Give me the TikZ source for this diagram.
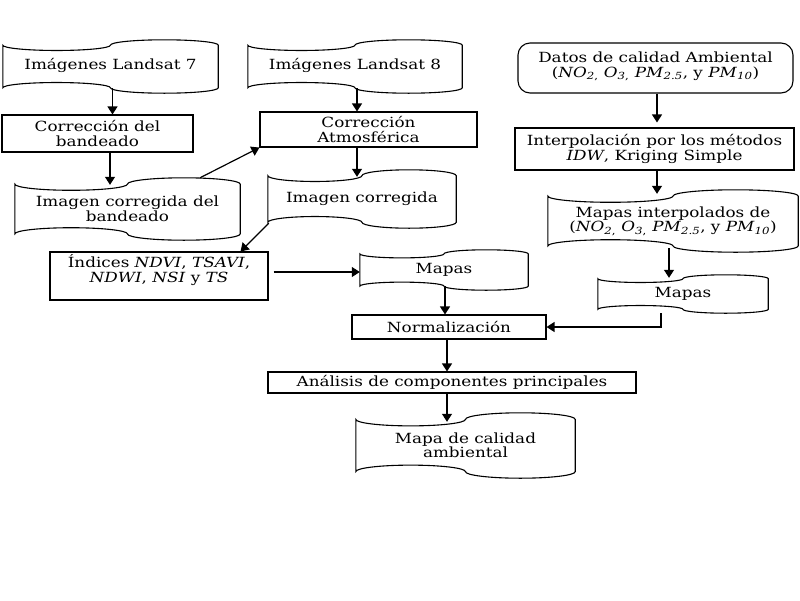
\documentclass[tikz,border=0pt]{standalone}
\usepackage{fontspec}
\setmainfont{DejaVu Serif}[FakeStretch=1.2]
\usetikzlibrary{calc,arrows.meta}
\newcommand{\pol}{(\textit{NO}\textsubscript{\textit{2},} \textit{O}\textsubscript{\textit{3},} \textit{PM}\textsubscript{\textit{2.5}}, y \textit{PM}\textsubscript{\textit{10}})}
\begin{document}
\begin{tikzpicture}[x=1pt,y=-1pt,
  base/.style={font=\fontsize{14}{14.5}\selectfont, align=center, inner sep=0pt},
  boxr/.style={base, draw, line width=1.1pt},
  tapebox/.style={base},
  tapeline/.style={draw, line width=1.1pt},
  arr/.style={line width=1.2pt, -{Triangle[length=8pt,width=10pt]}}]
\useasboundingbox (0,0) rectangle (800,600);
\fill[white] (0,0) rectangle (800,600);

% nodes
\node[tapebox, minimum width=215pt, minimum height=53pt] (l7) at (110.5,66.5) {Imágenes Landsat 7\\[-9pt]\mbox{}};
\node[boxr, minimum width=191pt, minimum height=37pt] (c1) at (97.5,133.5) {Corrección del\\bandeado};
\node[tapebox, minimum width=225pt, minimum height=62pt] (i1) at (127.5,209) {Imagen corregida del\\bandeado};
\node[tapebox, minimum width=214pt, minimum height=53pt] (l8) at (355,66.5) {Imágenes Landsat 8\\[-9pt]\mbox{}};
\node[boxr, minimum width=217pt, minimum height=35pt] (c2) at (368.5,129.5) {Corrección\\Atmosférica};
\node[tapebox, minimum width=188pt, minimum height=58pt] (i2) at (362,199) {Imagen corregida};
\node[boxr, minimum width=218pt, minimum height=48pt] (ind) at (159,276) {Índices \textit{NDVI}, \textit{TSAVI},\\\textit{NDWI}, \textit{NSI} y \textit{TS}\\\mbox{}};
\node[tapebox, minimum width=168pt, minimum height=40pt] (m1) at (444,270) {Mapas};
\node[boxr, minimum width=194pt, minimum height=24pt] (norm) at (449,327) {Normalización};
\node[boxr, rounded corners=12pt, minimum width=275pt, minimum height=50pt] (dat) at (655.5,68) {Datos de calidad Ambiental\\\pol\\[-8pt]\mbox{}};
\node[boxr, minimum width=279pt, minimum height=42pt] (interp) at (654.5,149) {Interpolación por los métodos\\\textit{IDW}, Kriging Simple};
\node[tapebox, minimum width=250pt, minimum height=62pt] (mi) at (673,221) {Mapas interpolados de\\\pol};
\node[tapebox, minimum width=170pt, minimum height=38pt] (m2) at (683,294) {Mapas};
\node[boxr, minimum width=368pt, minimum height=21pt] (ana) at (452,382.5) {Análisis de componentes principales};
\node[tapebox, minimum width=219pt, minimum height=65pt] (mc) at (465.5,445.5) {Mapa de calidad\\ambiental};

% wavy outlines
\foreach \nm in {l7,i1,l8,i2,m1,mi,m2,mc}{
  \draw[tapeline] let \p1=(\nm.north west), \p2=(\nm.south east) in
    (\x1,{\y1-0.1*(\y1-\y2)})
    arc[start angle=180, end angle=360, x radius={(\x2-\x1)/4}, y radius={0.1*(\y1-\y2)}]
    arc[start angle=180, end angle=0, x radius={(\x2-\x1)/4}, y radius={0.1*(\y1-\y2)}]
    -- (\x2,{\y2+0.1*(\y1-\y2)})
    arc[start angle=0, end angle=-180, x radius={(\x2-\x1)/4}, y radius={0.1*(\y1-\y2)}]
    arc[start angle=0, end angle=180, x radius={(\x2-\x1)/4}, y radius={0.1*(\y1-\y2)}]
    -- cycle;
}

% connectors
\draw[arr] ($(l7.south)+(2,-5)$) -- ($(c1.north)+(15,0)$);
\draw[arr] ($(c1.south)+(12.5,0)$) -- ($(i1.north)+(-17.5,7)$);
\draw[arr] ($(i1.north)+(72.5,0)$) -- (c2.south west);
\draw[arr] ($(l8.south)+(2,-5)$) -- ($(c2.north)+(-11.5,0)$);
\draw[arr] ($(c2.south)+(-11.5,0)$) -- ($(i2.north)+(-5,7)$);
\draw[arr] ($(i2.south west)+(1,-5)$) -- ($(ind.north east)+(-28,0)$);
\draw[arr] ($(ind.east)+(5,-4)$) -- ($(m1.west)+(0,2)$);
\draw[arr] ($(m1.south)+(1,-4)$) -- ($(norm.north)+(-4,0)$);
\draw[arr] ($(norm.south)+(-2,0)$) -- ($(ana.north)+(-5,0)$);
\draw[arr] ($(ana.south)+(-5,0)$) -- ($(mc.north)+(-18.5,9)$);
\draw[arr] ($(dat.south)+(1.5,0)$) -- ($(interp.north)+(2.5,-5)$);
\draw[arr] ($(interp.south)+(2.5,0)$) -- ($(mi.north)+(-16,4)$);
\draw[arr] ($(mi.south)+(-4,-4)$) -- ($(m2.north)+(-14,3)$);
\draw[arr] ($(m2.south)+(-22,0)$) |- (norm.east);
\end{tikzpicture}
\end{document}
